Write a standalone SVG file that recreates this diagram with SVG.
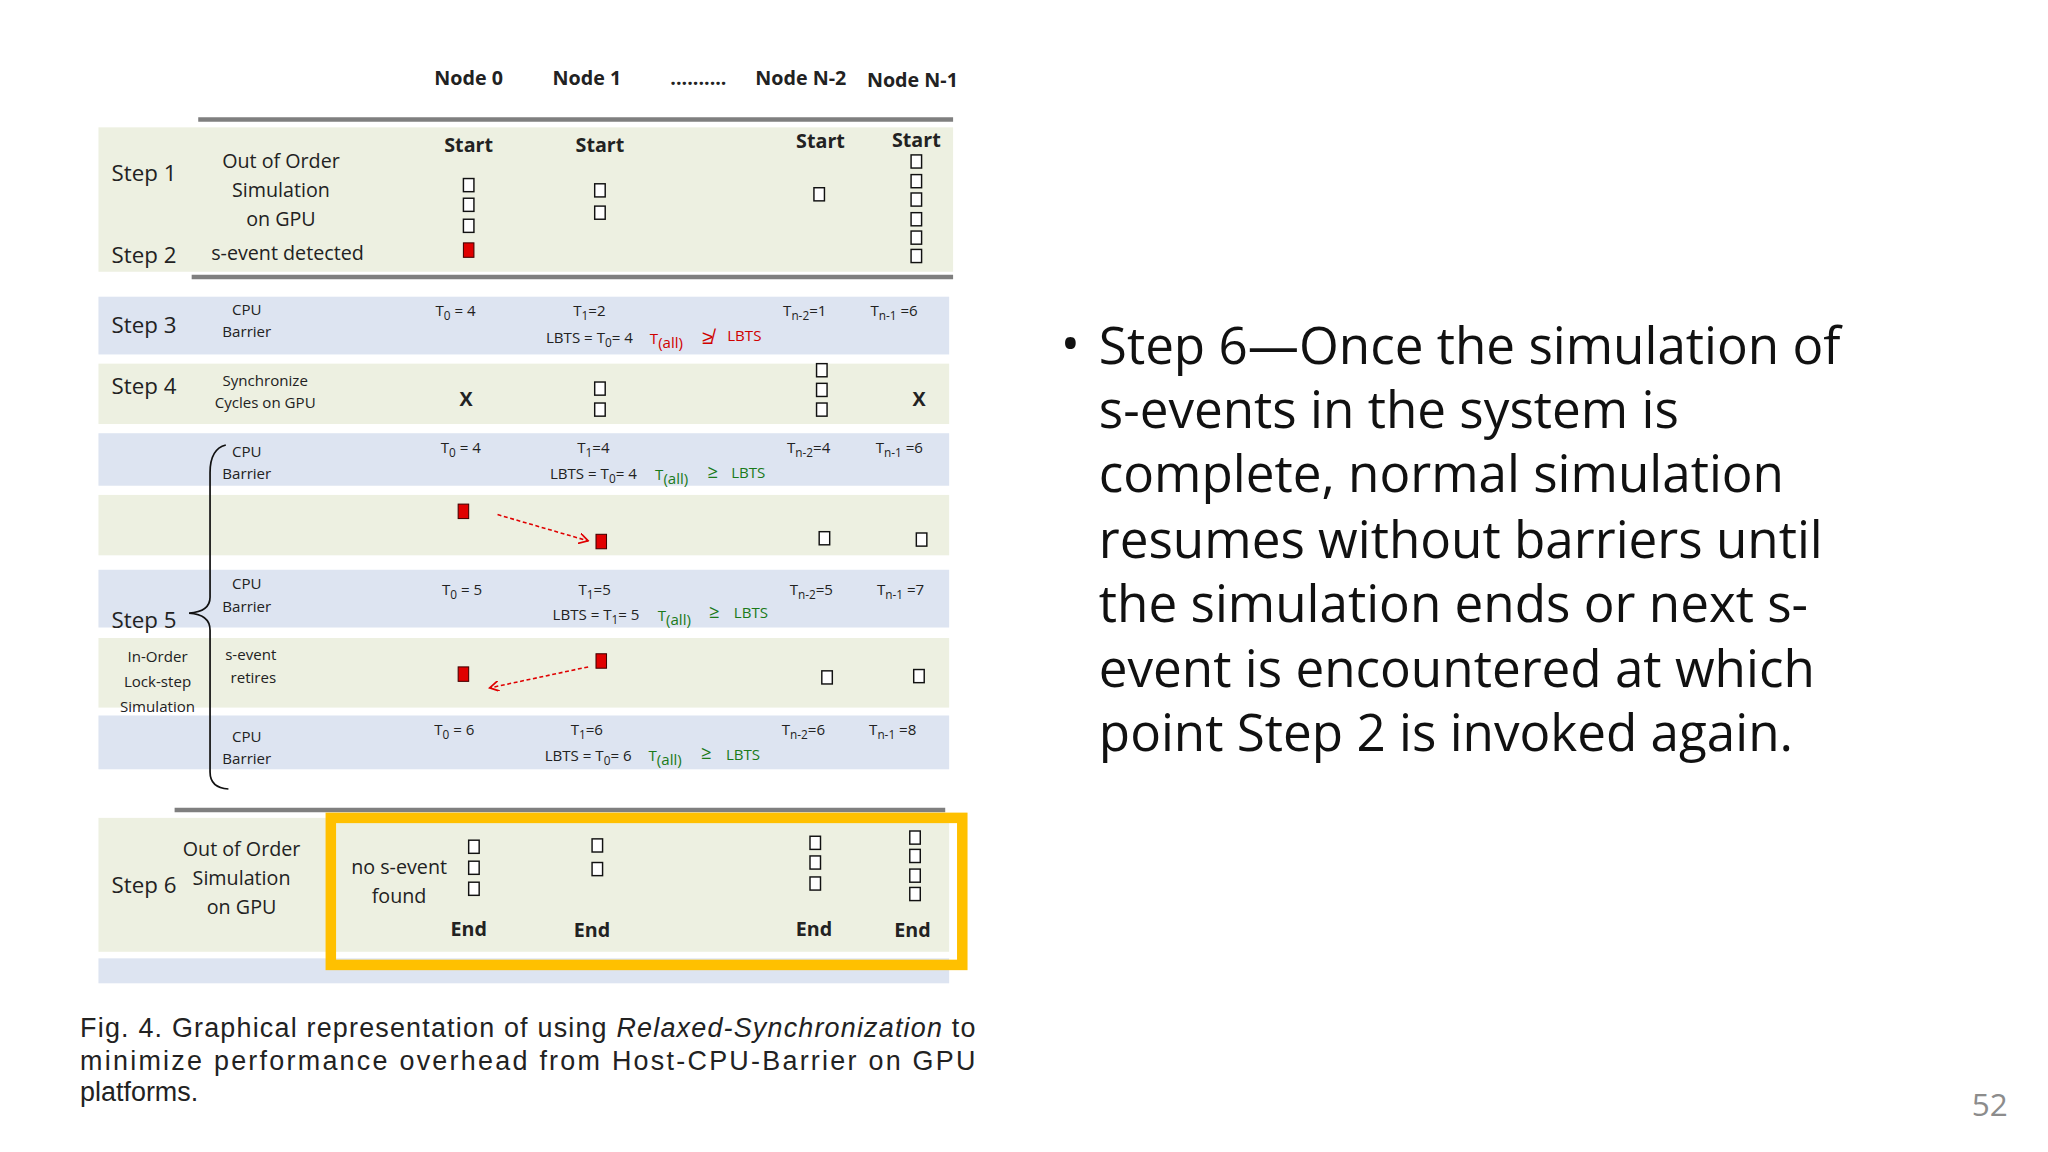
<svg xmlns="http://www.w3.org/2000/svg" width="2048" height="1152" viewBox="0 0 2048 1152">
<style>
.g{fill:#edf0e1}.b{fill:#dde4f1}
.t{font-family:"Open Sans","Liberation Sans",sans-serif;fill:#222}
.s{font-size:17px}.m{font-size:15px}.x{font-size:11.5px}
.c{text-anchor:middle}.bd{font-weight:bold}
.bx{fill:#fff;stroke:#111;stroke-width:1.1}.rd{fill:#e00000;stroke:#400;stroke-width:0.8}
.ln{stroke:#7f7f7f;stroke-width:3.5}
.red{fill:#d00000}.grn{fill:#1a7a1a}
</style>
<defs>
<marker id="ar" markerWidth="8" markerHeight="8" refX="7" refY="4" orient="auto" markerUnits="userSpaceOnUse"><path d="M0,0 L7,4 L0,8" fill="none" stroke="#e00000" stroke-width="1.3"/></marker>
</defs>
<rect width="2048" height="1152" fill="#fff"/>
<g transform="scale(1.3128)">
<g id="bands">
<rect class="g" x="75" y="97" width="651" height="110"/>
<rect class="b" x="75" y="226" width="648" height="44"/>
<rect class="g" x="75" y="277" width="648" height="46"/>
<rect class="b" x="75" y="330" width="648" height="40"/>
<rect class="g" x="75" y="377" width="648" height="46"/>
<rect class="b" x="75" y="434" width="648" height="44"/>
<rect class="g" x="75" y="486" width="648" height="53"/>
<rect class="b" x="75" y="545" width="648" height="41"/>
<rect class="g" x="75" y="623" width="648" height="102"/>
<rect class="b" x="75" y="730" width="648" height="19"/>
<line class="ln" x1="151" y1="91" x2="726" y2="91"/>
<line class="ln" x1="146" y1="211" x2="726" y2="211"/>
<line class="ln" x1="133" y1="617" x2="720" y2="617"/>
</g>
<g id="header" class="t m bd c">
<text x="357" y="65">Node 0</text><text x="447" y="65">Node 1</text><text x="532" y="65">..........</text>
<text x="610" y="65">Node N-2</text><text x="695" y="66">Node N-1</text>
</g>
<g id="step1" class="t">
<text class="s" x="85" y="138">Step 1</text><text class="s" x="85" y="200">Step 2</text>
<g class="m c"><text x="214" y="128">Out of Order</text><text x="214" y="150">Simulation</text><text x="214" y="172">on GPU</text><text x="219" y="198">s-event detected</text></g>
<g class="m c bd"><text x="357" y="116">Start</text><text x="457" y="116">Start</text><text x="625" y="113">Start</text><text x="698" y="112">Start</text></g>
<rect class="bx" x="353" y="136" width="8" height="10"/><rect class="bx" x="353" y="151" width="8" height="10"/><rect class="bx" x="353" y="167" width="8" height="10"/><rect class="rd" x="353" y="185" width="8" height="11"/>
<rect class="bx" x="453" y="140" width="8" height="10"/><rect class="bx" x="453" y="157" width="8" height="10"/>
<rect class="bx" x="620" y="143" width="8" height="10"/>
<rect class="bx" x="694" y="118" width="8" height="10"/><rect class="bx" x="694" y="133" width="8" height="10"/><rect class="bx" x="694" y="147" width="8" height="10"/><rect class="bx" x="694" y="162" width="8" height="10"/><rect class="bx" x="694" y="176" width="8" height="10"/><rect class="bx" x="694" y="190" width="8" height="10"/>
</g>
<g id="step3" class="t x">
<text class="s" x="85" y="254">Step 3</text>
<text class="c" x="188" y="240">CPU</text><text class="c" x="188" y="257">Barrier</text>
<text class="c" x="347" y="241">T<tspan dy="3" font-size="9">0</tspan><tspan dy="-3"> = 4</tspan></text>
<text class="c" x="449" y="241">T<tspan dy="3" font-size="9">1</tspan><tspan dy="-3">=2</tspan></text>
<text class="c" x="613" y="241">T<tspan dy="3" font-size="9">n-2</tspan><tspan dy="-3">=1</tspan></text>
<text class="c" x="681" y="241">T<tspan dy="3" font-size="9">n-1</tspan><tspan dy="-3"> =6</tspan></text>
<text class="c" x="449" y="261">LBTS = T<tspan dy="3" font-size="9">0</tspan><tspan dy="-3">= 4</tspan></text>
<text class="red" x="495" y="262">T<tspan dy="3">(all)</tspan></text>
<text class="red" x="535" y="262" font-size="15">≱</text>
<text class="red c" x="567" y="260">LBTS</text>
</g>
<g id="step4" class="t">
<text class="s" x="85" y="300">Step 4</text>
<text class="x c" x="202" y="294">Synchronize</text><text class="x c" x="202" y="311">Cycles on GPU</text>
<text class="m bd c" x="355" y="309">X</text><text class="m bd c" x="700" y="309">X</text>
<rect class="bx" x="453" y="291" width="8" height="10"/><rect class="bx" x="453" y="307" width="8" height="10"/>
<rect class="bx" x="622" y="277" width="8" height="10"/><rect class="bx" x="622" y="292" width="8" height="10"/><rect class="bx" x="622" y="307" width="8" height="10"/>
</g>
<g id="step5" class="t x">
<text class="c" x="188" y="348">CPU</text><text class="c" x="188" y="365">Barrier</text>
<text class="c" x="351" y="345">T<tspan dy="3" font-size="9">0</tspan><tspan dy="-3"> = 4</tspan></text>
<text class="c" x="452" y="345">T<tspan dy="3" font-size="9">1</tspan><tspan dy="-3">=4</tspan></text>
<text class="c" x="616" y="345">T<tspan dy="3" font-size="9">n-2</tspan><tspan dy="-3">=4</tspan></text>
<text class="c" x="685" y="345">T<tspan dy="3" font-size="9">n-1</tspan><tspan dy="-3"> =6</tspan></text>
<text class="c" x="452" y="365">LBTS = T<tspan dy="3" font-size="9">0</tspan><tspan dy="-3">= 4</tspan></text>
<text class="grn" x="499" y="366">T<tspan dy="3">(all)</tspan></text><text class="grn" x="539" y="364" font-size="14">≥</text><text class="grn c" x="570" y="364">LBTS</text>
<rect class="rd" x="349" y="384" width="8" height="11"/><rect class="rd" x="454" y="407" width="8" height="11"/>
<rect class="bx" x="624" y="405" width="8" height="10"/><rect class="bx" x="698" y="406" width="8" height="10"/>

<text class="c" x="188" y="449">CPU</text><text class="c" x="188" y="466">Barrier</text>
<text class="c" x="352" y="453">T<tspan dy="3" font-size="9">0</tspan><tspan dy="-3"> = 5</tspan></text>
<text class="c" x="453" y="453">T<tspan dy="3" font-size="9">1</tspan><tspan dy="-3">=5</tspan></text>
<text class="c" x="618" y="453">T<tspan dy="3" font-size="9">n-2</tspan><tspan dy="-3">=5</tspan></text>
<text class="c" x="686" y="453">T<tspan dy="3" font-size="9">n-1</tspan><tspan dy="-3"> =7</tspan></text>
<text class="c" x="454" y="472">LBTS = T<tspan dy="3" font-size="9">1</tspan><tspan dy="-3">= 5</tspan></text>
<text class="grn" x="501" y="473">T<tspan dy="3">(all)</tspan></text><text class="grn" x="540" y="471" font-size="14">≥</text><text class="grn c" x="572" y="471">LBTS</text>
<text class="s" x="85" y="478">Step 5</text>
<text class="c" x="120" y="504">In-Order</text><text class="c" x="120" y="523">Lock-step</text><text class="c" x="120" y="542">Simulation</text>
<text class="c" x="191" y="503">s-event</text><text class="c" x="193" y="520">retires</text>
<rect class="rd" x="349" y="508" width="8" height="11"/><rect class="rd" x="454" y="498" width="8" height="11"/>
<rect class="bx" x="626" y="511" width="8" height="10"/><rect class="bx" x="696" y="510" width="8" height="10"/>

<text class="c" x="188" y="565">CPU</text><text class="c" x="188" y="582">Barrier</text>
<text class="c" x="346" y="560">T<tspan dy="3" font-size="9">0</tspan><tspan dy="-3"> = 6</tspan></text>
<text class="c" x="447" y="560">T<tspan dy="3" font-size="9">1</tspan><tspan dy="-3">=6</tspan></text>
<text class="c" x="612" y="560">T<tspan dy="3" font-size="9">n-2</tspan><tspan dy="-3">=6</tspan></text>
<text class="c" x="680" y="560">T<tspan dy="3" font-size="9">n-1</tspan><tspan dy="-3"> =8</tspan></text>
<text class="c" x="448" y="580">LBTS = T<tspan dy="3" font-size="9">0</tspan><tspan dy="-3">= 6</tspan></text>
<text class="grn" x="494" y="580">T<tspan dy="3">(all)</tspan></text><text class="grn" x="534" y="578" font-size="14">≥</text><text class="grn c" x="566" y="579">LBTS</text>
</g>
<g id="connectors" fill="none">
<path d="M172,339 Q160,342 160,360 L160,455 Q160,466 144,467 Q160,468 160,480 L160,588 Q160,600 174,601" stroke="#111" stroke-width="1.3"/>
<line x1="379" y1="392" x2="448" y2="412" stroke="#e00000" stroke-width="1.2" stroke-dasharray="3,2" marker-end="url(#ar)"/>
<line x1="448" y1="508" x2="373" y2="524" stroke="#e00000" stroke-width="1.2" stroke-dasharray="3,2" marker-end="url(#ar)"/>
</g>
<g id="step6" class="t">
<text class="s" x="85" y="680">Step 6</text>
<g class="m c"><text x="184" y="652">Out of Order</text><text x="184" y="674">Simulation</text><text x="184" y="696">on GPU</text><text x="304" y="666">no s-event</text><text x="304" y="688">found</text></g>
<rect class="bx" x="357" y="640" width="8" height="10"/><rect class="bx" x="357" y="656" width="8" height="10"/><rect class="bx" x="357" y="672" width="8" height="10"/>
<rect class="bx" x="451" y="639" width="8" height="10"/><rect class="bx" x="451" y="657" width="8" height="10"/>
<rect class="bx" x="617" y="637" width="8" height="10"/><rect class="bx" x="617" y="652" width="8" height="10"/><rect class="bx" x="617" y="668" width="8" height="10"/>
<rect class="bx" x="693" y="633" width="8" height="10"/><rect class="bx" x="693" y="647" width="8" height="10"/><rect class="bx" x="693" y="662" width="8" height="10"/><rect class="bx" x="693" y="676" width="8" height="10"/>
<g class="m bd c"><text x="357" y="713">End</text><text x="451" y="714">End</text><text x="620" y="713">End</text><text x="695" y="714">End</text></g>
<rect x="252" y="623" width="481" height="112" fill="none" stroke="#ffc000" stroke-width="8"/>
</g>
<g id="caption" font-family="Liberation Sans,Arial,sans-serif" font-size="20.5" fill="#222">
<text x="61" y="790" textLength="682" lengthAdjust="spacing">Fig. 4. Graphical representation of using <tspan font-style="italic">Relaxed-Synchronization</tspan> to</text>
<text x="61" y="815" textLength="682" lengthAdjust="spacing">minimize performance overhead from Host-CPU-Barrier on GPU</text>
<text x="61" y="839">platforms.</text>
</g>
<g id="bullet" font-family="Open Sans,Liberation Sans,sans-serif" font-size="39" fill="#111">
<text x="808" y="276">•</text>
<text x="837" y="277">Step 6—Once the simulation of</text>
<text x="837" y="326">s-events in the system is</text>
<text x="837" y="375">complete, normal simulation</text>
<text x="837" y="425">resumes without barriers until</text>
<text x="837" y="474">the simulation ends or next s-</text>
<text x="837" y="523">event is encountered at which</text>
<text x="837" y="572">point Step 2 is invoked again.</text>
</g>
<text x="1502" y="850" font-family="Open Sans,Liberation Sans,sans-serif" font-size="24" fill="#8c8c8c">52</text>
</g>
</svg>
